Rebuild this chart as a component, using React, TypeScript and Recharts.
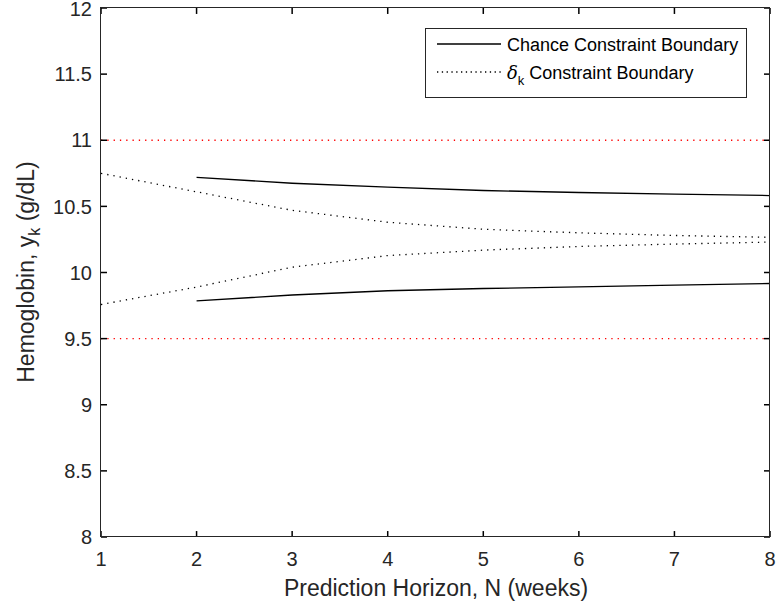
import React from "react";
import { LineChart, Line, XAxis, YAxis, ReferenceLine, Customized } from "recharts";

const horizons = [1, 2, 3, 4, 5, 6, 7, 8];
const chanceUpper = [null, 10.72, 10.675, 10.645, 10.62, 10.605, 10.592, 10.582];
const chanceLower = [null, 9.785, 9.83, 9.862, 9.879, 9.891, 9.904, 9.917];
const deltaUpper = [10.75, 10.61, 10.47, 10.38, 10.327, 10.3, 10.28, 10.266];
const deltaLower = [9.758, 9.89, 10.04, 10.128, 10.169, 10.197, 10.215, 10.23];
const yTicks = [8, 8.5, 9, 9.5, 10, 10.5, 11, 11.5, 12];
const limits = [11, 9.5];

const X_MIN = 1;
const X_MAX = 8;
const Y_MIN = 8;
const Y_MAX = 12;

const data = horizons.map((n, i) => ({
  n,
  cu: chanceUpper[i],
  cl: chanceLower[i],
  du: deltaUpper[i],
  dl: deltaLower[i],
}));

const FONT = "'Liberation Sans', Arial, Helvetica, sans-serif";
const AX = "#262626";
const FRAME = "#000000";
const XTICK_LEN = 0.045;
const YTICK_LEN = 0.063;

const BottomTick = (p: any) => (
  <text x={p.x} y={p.y + 15} dy="0.71em" textAnchor="middle" fontSize={20} fontFamily={FONT} fill={AX}>
    {p.payload.value}
  </text>
);
const LeftTick = (p: any) => (
  <text x={p.x - 9} y={p.y} dy="0.36em" textAnchor="end" fontSize={20} fontFamily={FONT} fill={AX}>
    {p.payload.value}
  </text>
);

const Overlay = () => (
  <g fontFamily={FONT}>
    <rect x={425.5} y={28.5} width={321} height={69} fill="#fff" stroke={AX} strokeWidth={1} />
    <line x1={437} x2={501} y1={44} y2={44} stroke="#000" strokeWidth={1.3} />
    <line x1={437} x2={501} y1={72} y2={72} stroke="#000" strokeWidth={1.3} strokeDasharray="1.3 3.5" />
    <text x={507} y={50.5} fontSize={18} fill="#000">Chance Constraint Boundary</text>
    <text x={507} y={78.5} fontSize={18} fill="#000">
      <tspan fontFamily="'DejaVu Serif', 'Liberation Serif', serif" fontStyle="italic">δ</tspan>
      <tspan fontSize={13} dy={6}>k</tspan>
      <tspan dy={-6}> Constraint Boundary</tspan>
    </text>
    <text x={436} y={596} textAnchor="middle" fontSize={23} fill={AX}>
      Prediction Horizon, N (weeks)
    </text>
    <text x={34} y={272} textAnchor="middle" fontSize={23} fill={AX} transform="rotate(-90 34 272)">
      <tspan>Hemoglobin, y</tspan>
      <tspan fontSize={16} dy={6}>k</tspan>
      <tspan dy={-6}> (g/dL)</tspan>
    </text>
  </g>
);

export default function App() {
  return (
    <div style={{ position: "absolute", left: 0, top: 0, width: 776, height: 607, background: "#fff" }}>
      <LineChart
        width={776}
        height={607}
        data={data}
        margin={{ top: 8, right: 6, bottom: 40, left: 61 }}
        style={{ fontFamily: FONT }}
      >
        <XAxis
          dataKey="n"
          type="number"
          domain={[X_MIN, X_MAX]}
          ticks={horizons}
          axisLine={false}
          tickLine={false}
          tickSize={0}
          tickMargin={0}
          height={30}
          tick={BottomTick}
          allowDataOverflow
        />
        <YAxis
          type="number"
          domain={[Y_MIN, Y_MAX]}
          ticks={yTicks}
          axisLine={false}
          tickLine={false}
          tickSize={0}
          tickMargin={0}
          width={40}
          tick={LeftTick}
          allowDataOverflow
        />
        {limits.map((v) => (
          <ReferenceLine key={"lim" + v} y={v} stroke="#ff0000" strokeWidth={1.3} strokeDasharray="1.3 5" />
        ))}
        {horizons.map((n) => (
          <ReferenceLine key={"bt" + n} segment={[{ x: n, y: Y_MIN }, { x: n, y: Y_MIN + XTICK_LEN }]} stroke={FRAME} strokeWidth={1.5} />
        ))}
        {horizons.map((n) => (
          <ReferenceLine key={"tt" + n} segment={[{ x: n, y: Y_MAX }, { x: n, y: Y_MAX - XTICK_LEN }]} stroke={FRAME} strokeWidth={1.5} />
        ))}
        {yTicks.map((v) => (
          <ReferenceLine key={"lt" + v} segment={[{ x: X_MIN, y: v }, { x: X_MIN + YTICK_LEN, y: v }]} stroke={FRAME} strokeWidth={1.5} />
        ))}
        {yTicks.map((v) => (
          <ReferenceLine key={"rt" + v} segment={[{ x: X_MAX, y: v }, { x: X_MAX - YTICK_LEN, y: v }]} stroke={FRAME} strokeWidth={1.5} />
        ))}
        <Line dataKey="cu" type="linear" stroke="#000" strokeWidth={1.3} dot={false} isAnimationActive={false} connectNulls={false} />
        <Line dataKey="cl" type="linear" stroke="#000" strokeWidth={1.3} dot={false} isAnimationActive={false} connectNulls={false} />
        <Line dataKey="du" type="linear" stroke="#000" strokeWidth={1.3} strokeDasharray="1.3 5" dot={false} isAnimationActive={false} />
        <Line dataKey="dl" type="linear" stroke="#000" strokeWidth={1.3} strokeDasharray="1.3 5" dot={false} isAnimationActive={false} />
        <Customized component={Overlay} />
      </LineChart>
      <div
        style={{
          position: "absolute",
          left: 100,
          top: 7,
          width: 670,
          height: 530,
          border: "1.5px solid #262626",
          boxSizing: "border-box",
          pointerEvents: "none",
        }}
      />
    </div>
  );
}
